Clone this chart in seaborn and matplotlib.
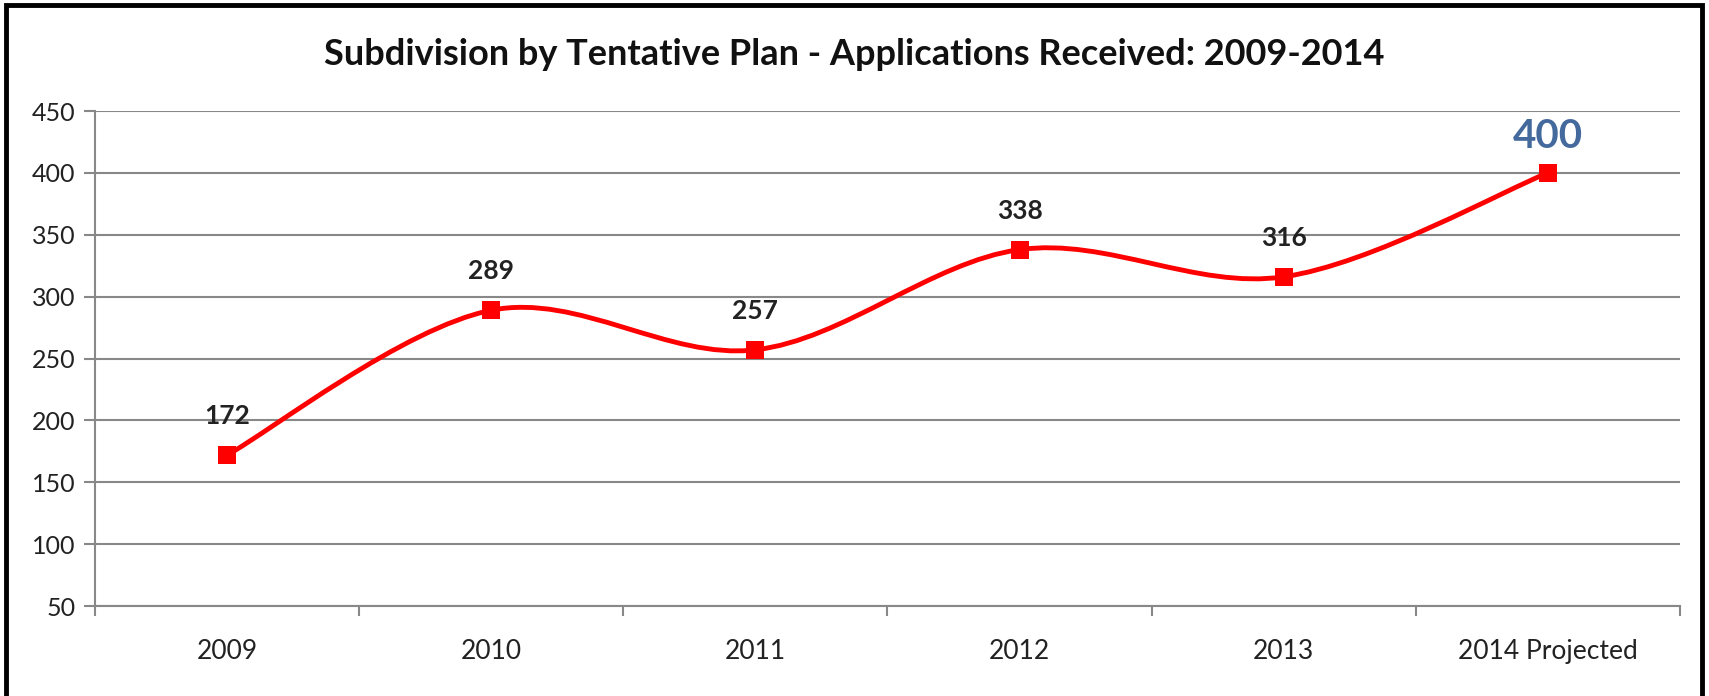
import numpy as np
import matplotlib
matplotlib.use("Agg")
import matplotlib.pyplot as plt
from matplotlib.path import Path
from matplotlib.patches import PathPatch, Rectangle
import seaborn as sns

# data
categories = ["2009", "2010", "2011", "2012", "2013", "2014 Projected"]
applications = [172, 289, 257, 338, 316, 400]
y_ticks = [50, 100, 150, 200, 250, 300, 350, 400, 450]

sns.set_theme(style="white")
plt.rcParams["font.family"] = ["Lato", "DejaVu Sans"]

fig = plt.figure(figsize=(17.09, 6.96), dpi=100)
ax = fig.add_axes([0.0556, 0.1293, 0.9274, 0.7112])

x = np.arange(len(categories))
y = np.array(applications, dtype=float)

# smooth line (Excel style) as cubic bezier through the points
verts = [(x[0], y[0])]
codes = [Path.MOVETO]
t = 1 / 6
for i in range(len(x) - 1):
    p0 = (x[max(i - 1, 0)], y[max(i - 1, 0)])
    p1 = (x[i], y[i])
    p2 = (x[i + 1], y[i + 1])
    p3 = (x[min(i + 2, len(x) - 1)], y[min(i + 2, len(x) - 1)])
    c1 = (p1[0] + (p2[0] - p0[0]) * t, p1[1] + (p2[1] - p0[1]) * t)
    c2 = (p2[0] - (p3[0] - p1[0]) * t, p2[1] - (p3[1] - p1[1]) * t)
    verts += [c1, c2, p2]
    codes += [Path.CURVE4] * 3
ax.add_patch(PathPatch(Path(verts, codes), fill=False, edgecolor="#ff0000", lw=3.5, zorder=3))

sns.scatterplot(x=x, y=y, marker="s", color="#ff0000", s=170, edgecolor="#ff0000",
                linewidth=0, zorder=4, ax=ax)

# labels
for i, v in enumerate(applications):
    if i == len(applications) - 1:
        ax.annotate(str(v), (x[i], v), xytext=(0, 26), textcoords="offset points",
                    ha="center", va="center", fontsize=29, fontweight="bold", color="#44699c")
    else:
        ax.annotate(str(v), (x[i], v), xytext=(0, 28), textcoords="offset points",
                    ha="center", va="center", fontsize=19, fontweight="bold", color="#222222")

ax.set_xlim(-0.5, len(categories) - 0.5)
ax.set_ylim(50, 450)
ax.set_yticks(y_ticks)
ax.set_yticklabels([str(v) for v in y_ticks], fontsize=18, color="#222222")
ax.set_xticks(x)
ax.set_xticklabels(categories, fontsize=19, color="#222222")
ax.tick_params(axis="x", length=0, pad=24)
ax.set_xticks(np.arange(-0.5, len(categories)), minor=True)
ax.tick_params(axis="x", which="minor", length=7, width=1.5, color="#888888", direction="out", bottom=True)
ax.tick_params(axis="y", length=8, width=1.5, color="#888888", direction="out", left=True, pad=6)

ax.grid(axis="y", color="#888888", lw=1.5)
ax.set_axisbelow(True)
for s in ["top", "right"]:
    ax.spines[s].set_visible(False)
for s in ["left", "bottom"]:
    ax.spines[s].set_color("#888888")
    ax.spines[s].set_linewidth(1.5)

fig.text(0.5, 0.922, "Subdivision by Tentative Plan - Applications Received: 2009-2014",
         ha="center", va="center", fontsize=26, fontweight="bold", color="#111111")

fig.patches.append(Rectangle((0.0035, -0.01), 0.9925, 1.003, transform=fig.transFigure,
                             fill=False, edgecolor="black", lw=3.5))

fig.savefig("out.png", dpi=100)
